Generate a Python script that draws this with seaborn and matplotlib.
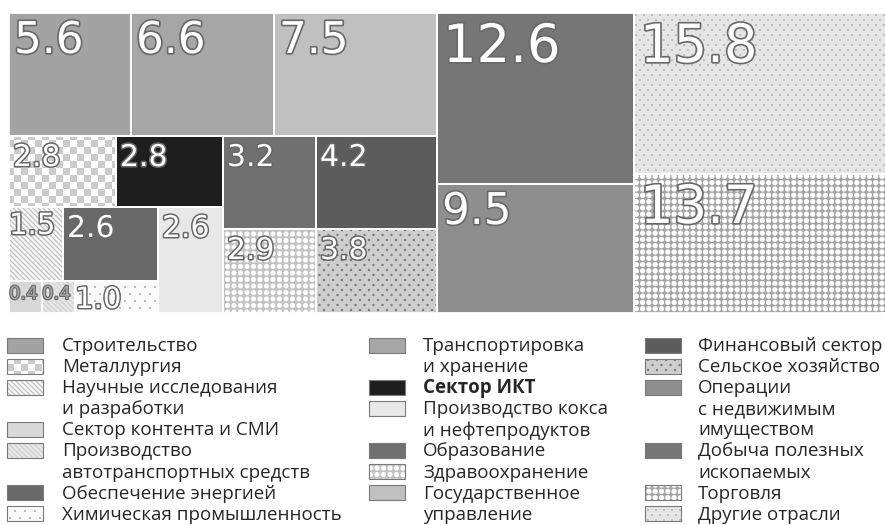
import numpy as np
import matplotlib
matplotlib.use("Agg")
import matplotlib.pyplot as plt
import seaborn as sns
from matplotlib.patches import Rectangle
import matplotlib.patheffects as pe

# ---------------- data ----------------
sectors = ["Строительство", "Металлургия", "Научные исследования\nи разработки",
           "Сектор контента и СМИ", "Производство\nавтотранспортных средств",
           "Обеспечение энергией", "Химическая промышленность",
           "Транспортировка\nи хранение", "Сектор ИКТ", "Производство кокса\nи нефтепродуктов",
           "Образование", "Здравоохранение", "Государственное\nуправление",
           "Финансовый сектор", "Сельское хозяйство", "Операции\nс недвижимым\nимуществом",
           "Добыча полезных\nископаемых", "Торговля", "Другие отрасли"]
values = [5.6, 2.8, 1.5, 0.4, 0.4, 2.6, 1.0,
          6.6, 2.8, 2.6, 3.2, 2.9, 7.5,
          4.2, 3.8, 9.5, 12.6, 13.7, 15.8]
legend_column = [0] * 7 + [1] * 6 + [2] * 6
# grouping of the treemap: "h" = side by side, "v" = stacked
layout_tree = ("h", [("v", [("h", [0, 7, 12]),
                            ("h", [("v", [("h", [1, 8]),
                                          ("h", [("v", [("h", [2, 5]), ("h", [3, 4, 6])]), 9])]),
                                   ("h", [("v", [10, 11]), ("v", [13, 14])])])]),
                     ("v", [16, 15]),
                     ("v", [18, 17])])

# ---------------- styles ----------------
styles = {
    0: ("solid", 163), 1: ("checker", 203, 255, 7), 2: ("diag", 248, 192, 5),
    3: ("solid", 216), 4: ("diag", 230, 210, 5), 5: ("solid", 106),
    6: ("dots", 250, 180, 10, 7, 1.1), 7: ("solid", 166), 8: ("solid", 30),
    9: ("solid", 232), 10: ("solid", 112), 11: ("holes", 195, 255, 6.5, 2.5),
    12: ("solid", 192), 13: ("solid", 92), 14: ("dots", 206, 125, 9, 5, 1.2),
    15: ("solid", 142), 16: ("solid", 118), 17: ("holes", 165, 255, 6.3, 2.6),
    18: ("dots", 229, 180, 8, 5, 1.0),
}


def texture(style, X, Y):
    kind = style[0]
    if kind == "solid":
        return np.full(X.shape, float(style[1]))
    if kind == "checker":
        _, a, b, s = style
        m = ((np.floor(X / s) + np.floor(Y / s)) % 2).astype(bool)
        return np.where(m, a, b).astype(float)
    if kind == "diag":
        _, bg, fg, s = style
        d = np.mod(X - Y, s)
        t = np.clip(1.4 - np.minimum(d, s - d), 0, 1)
        return bg + (fg - bg) * t
    if kind == "dots":
        _, bg, fg, sx, sy, r = style
        row = np.round(Y / sy)
        xs = X - (row % 2) * sx / 2
        dx = xs - np.round(xs / sx) * sx
        dy = Y - row * sy
    else:
        _, bg, fg, s, r = style
        dx = X - np.round(X / s) * s
        dy = Y - np.round(Y / s) * s
    d = np.hypot(dx, dy)
    t = np.clip(r + 0.5 - d, 0, 1)
    return bg + (fg - bg) * t


def fill_rect(ax, style, x0, y0, x1, y1, z=1):
    xs = np.arange(x0, x1) + 0.5
    ys = np.arange(y0, y1) + 0.5
    X, Y = np.meshgrid(xs, ys)
    img = texture(style, X, Y) / 255.0
    ax.imshow(img, cmap="gray", vmin=0, vmax=1, extent=(x0, x1, y1, y0),
              interpolation="nearest", aspect="auto", zorder=z)


def total(node):
    if isinstance(node, int):
        return values[node]
    return sum(total(c) for c in node[1])


def layout(node, x, y, w, h, out):
    if isinstance(node, int):
        out[node] = (x, y, w, h)
        return
    direction, children = node
    tot = total(node)
    pos = 0.0
    for c in children:
        frac = total(c) / tot
        if direction == "h":
            layout(c, x + pos * w, y, w * frac, h, out)
        else:
            layout(c, x, y + pos * h, w, h * frac, out)
        pos += frac


sns.set_theme(style="white")
plt.rcParams["font.family"] = ["Open Sans", "DejaVu Sans"]

fig = plt.figure(figsize=(8.85, 5.25), dpi=100)
ax = fig.add_axes([0, 0, 1, 1])
ax.set_xlim(0, 885)
ax.set_ylim(525, 0)
ax.axis("off")

rects = {}
layout(layout_tree, 9, 13, 889, 300, rects)

for i, (x, y, w, h) in rects.items():
    x0, y0, x1, y1 = int(round(x)), int(round(y)), int(round(x + w)), int(round(y + h))
    fill_rect(ax, styles[i], x0, y0, x1, y1)
    ax.add_patch(Rectangle((x0, y0), x1 - x0, y1 - y0, fill=False,
                           edgecolor="white", lw=1.3, zorder=3))
    v = values[i]
    if v < 1:
        fs, px, py, col, sw = 13, 0, 4, "#a6a6a6", 1.6
    elif v < 2:
        fs, px, py, col, sw = 21, 0, 5, "white", 2.2
    elif v < 5:
        fs, px, py, col, sw = 21.5, 4, 7, "white", 2.2
    elif v < 10:
        fs, px, py, col, sw = 31.5, 5, 6, "white", 2.4
    else:
        fs, px, py, col, sw = 38, 6, 8, "white", 2.4
    ax.text(x0 + px, y0 + py, f"{v:.1f}", fontsize=fs, color=col, family="DejaVu Sans",
            ha="left", va="top", zorder=5,
            path_effects=[pe.withStroke(linewidth=sw, foreground="#686868")])

# ---------------- legend ----------------
icon_x = [7, 369, 645]
text_x = [62, 423, 698]
row0, dy = 345, 21.1
rows = [0, 0, 0]
for i, name in enumerate(sectors):
    c = legend_column[i]
    yc = row0 + dy * rows[c]
    x0, y0 = icon_x[c], int(round(yc - 7.5))
    fill_rect(ax, styles[i], x0, y0, x0 + 36, y0 + 15, z=2)
    ax.add_patch(Rectangle((x0, y0), 36, 15, fill=False, edgecolor="#7a7a7a", lw=0.8, zorder=3))
    for line in name.split("\n"):
        ax.text(text_x[c], row0 + dy * rows[c] + 1.0, line, fontsize=13.5, color="#262626",
                ha="left", va="center", zorder=5,
                fontweight="bold" if name == "Сектор ИКТ" else "normal")
        rows[c] += 1

fig.savefig("out.png", dpi=100)
